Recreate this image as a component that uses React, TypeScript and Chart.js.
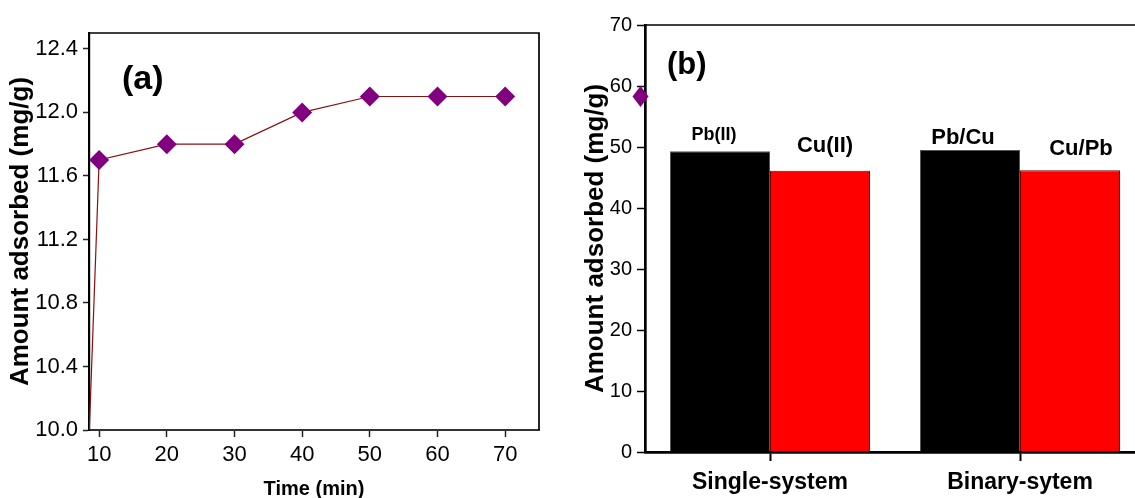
import React, { useEffect, useRef } from 'react';
import { Chart, registerables } from 'chart.js';

Chart.register(...registerables);

const FONT = '"Liberation Sans", Arial, Helvetica, sans-serif';
Chart.defaults.font.family = FONT;
Chart.defaults.color = '#000';

// ---- Panel (a): kinetics ----
const timeMin = [0, 10, 20, 30, 40, 50, 60, 70];
const amountA = [0, 11.7, 11.8, 11.8, 12.0, 12.1, 12.1, 12.1];
const xTicksA = [10, 20, 30, 40, 50, 60, 70];
const yTicksA = [10.0, 10.4, 10.8, 11.2, 11.6, 12.0, 12.4];
// a marker drawn past the right edge of panel (a) in the picture
const outOfRangeTime = [90];
const outOfRangeAmount = [12.1];

// ---- Panel (b): single vs binary ----
const systems = ['Single-system', 'Binary-sytem'];
const firstMetal = [49.3, 49.5];
const secondMetal = [46.1, 46.2];
const firstLabels = ['Pb(II)', 'Pb/Cu'];
const secondLabels = ['Cu(II)', 'Cu/Pb'];
const yTicksB = [0, 10, 20, 30, 40, 50, 60, 70];

// label styling (positions relative to bar tops)
const firstLabelStyle = [
  { size: 18, dx: -6, gap: 11 },
  { size: 22, dx: -7, gap: 6.5 },
];
const secondLabelStyle = [
  { size: 22, dx: 5, gap: 18.5 },
  { size: 22, dx: 11, gap: 15 },
];

function framePlugin(width: number, right: boolean) {
  return {
    id: 'frame',
    afterDatasetsDraw(chart: any) {
      const { ctx, chartArea: a } = chart;
      ctx.save();
      ctx.strokeStyle = '#000';
      ctx.lineWidth = width;
      ctx.beginPath();
      ctx.moveTo(a.left, a.top);
      ctx.lineTo(a.right, a.top);
      if (right) ctx.lineTo(a.right, a.bottom);
      ctx.stroke();
      ctx.restore();
    },
  };
}

function panelLetter(text: string, size: number, dx: number, dy: number) {
  return {
    id: 'panelLetter',
    afterDraw(chart: any) {
      const { ctx, chartArea: a } = chart;
      ctx.save();
      ctx.font = `bold ${size}px ${FONT}`;
      ctx.fillStyle = '#000';
      ctx.textAlign = 'left';
      ctx.textBaseline = 'middle';
      ctx.fillText(text, a.left + dx, a.top + dy);
      ctx.restore();
    },
  };
}

// draws the overflowing marker(s) of panel (a) through its own scales
const overflowMarkerPlugin = {
  id: 'overflowMarkers',
  afterDraw(chart: any) {
    const { ctx } = chart;
    const xs = chart.scales.x;
    const ys = chart.scales.y;
    outOfRangeTime.forEach((t, i) => {
      const px = xs.getPixelForValue(t);
      const py = ys.getPixelForValue(outOfRangeAmount[i]);
      ctx.save();
      ctx.fillStyle = '#800080';
      ctx.beginPath();
      ctx.moveTo(px, py - 10.5);
      ctx.lineTo(px + 8, py);
      ctx.lineTo(px, py + 10.5);
      ctx.lineTo(px - 8, py);
      ctx.closePath();
      ctx.fill();
      ctx.restore();
    });
  },
};

const barLabelPlugin = {
  id: 'barLabels',
  afterDatasetsDraw(chart: any) {
    const { ctx } = chart;
    const sets = [
      { labels: firstLabels, styles: firstLabelStyle },
      { labels: secondLabels, styles: secondLabelStyle },
    ];
    sets.forEach((set, di) => {
      const meta = chart.getDatasetMeta(di);
      meta.data.forEach((el: any, j: number) => {
        const st = set.styles[j];
        ctx.save();
        ctx.font = `bold ${st.size}px ${FONT}`;
        ctx.fillStyle = '#000';
        ctx.textAlign = 'center';
        ctx.textBaseline = 'alphabetic';
        ctx.fillText(set.labels[j], el.x + st.dx, el.y - st.gap);
        ctx.restore();
      });
    });
  },
};

export default function App() {
  const refA = useRef<HTMLCanvasElement>(null);
  const refB = useRef<HTMLCanvasElement>(null);

  useEffect(() => {
    const chartB = new Chart(refB.current as HTMLCanvasElement, {
      type: 'bar',
      data: {
        labels: systems,
        datasets: [
          {
            data: firstMetal,
            backgroundColor: '#000000',
            borderColor: '#555555',
            borderWidth: 1,
          },
          {
            data: secondMetal,
            backgroundColor: '#ff0000',
            borderColor: '#7a0000',
            borderWidth: 1,
          },
        ],
      },
      options: {
        animation: false,
        responsive: true,
        maintainAspectRatio: false,
        datasets: { bar: { categoryPercentage: 0.8, barPercentage: 1.0 } },
        layout: { padding: { top: 25, right: 15, left: 0, bottom: 0 } },
        plugins: { legend: { display: false }, tooltip: { enabled: false } },
        scales: {
          x: {
            type: 'category',
            offset: true,
            afterFit: (s: any) => {
              s.height = 58;
            },
            grid: {
              display: true,
              offset: false,
              drawOnChartArea: false,
              drawTicks: true,
              tickLength: 9,
              tickColor: '#000',
              tickWidth: 2,
            },
            border: { display: true, color: '#000', width: 2.7 },
            ticks: {
              font: { size: 23, weight: 'bold' },
              color: '#000',
              padding: 8,
            },
          },
          y: {
            type: 'linear',
            min: 0,
            max: 70,
            afterBuildTicks: (s: any) => {
              s.ticks = yTicksB.map((v) => ({ value: v }));
            },
            afterFit: (s: any) => {
              s.width = 85;
            },
            grid: {
              display: true,
              drawOnChartArea: false,
              drawTicks: true,
              tickLength: 8,
              tickColor: '#000',
              tickWidth: 1.5,
            },
            border: { display: true, color: '#000', width: 2.7 },
            ticks: { font: { size: 20 }, color: '#000', padding: 5 },
            title: {
              display: true,
              text: 'Amount adsorbed (mg/g)',
              font: { size: 26, weight: 'bold' },
              color: '#000',
              padding: { top: 20.2, bottom: 0 },
            },
          },
        },
      },
      plugins: [framePlugin(1.7, false), barLabelPlugin, panelLetter('(b)', 31, 22, 40)],
    } as any);

    const chartA = new Chart(refA.current as HTMLCanvasElement, {
      type: 'scatter',
      data: {
        datasets: [
          {
            data: timeMin.map((t, i) => ({ x: t, y: amountA[i] })),
            showLine: true,
            borderColor: '#8b1010',
            borderWidth: 1.2,
            pointStyle: 'rectRot',
            pointRadius: 10,
            pointBackgroundColor: '#800080',
            pointBorderColor: '#800080',
            pointBorderWidth: 0,
          },
        ],
      },
      options: {
        animation: false,
        responsive: true,
        maintainAspectRatio: false,
        layout: { padding: { top: 33, right: 161, left: 0, bottom: 0 } },
        plugins: { legend: { display: false }, tooltip: { enabled: false } },
        scales: {
          x: {
            type: 'linear',
            min: 8.5,
            max: 75,
            afterBuildTicks: (s: any) => {
              s.ticks = xTicksA.map((v) => ({ value: v }));
            },
            afterFit: (s: any) => {
              s.height = 80;
            },
            grid: {
              display: true,
              drawOnChartArea: false,
              drawTicks: true,
              tickLength: 7,
              tickColor: '#222',
              tickWidth: 1.5,
            },
            border: { display: true, color: '#333', width: 2 },
            ticks: { font: { size: 22 }, color: '#000', padding: 5 },
            title: {
              display: true,
              text: 'Time (min)',
              font: { size: 20, weight: 'bold' },
              color: '#000',
              padding: { top: 0, bottom: 9 },
            },
          },
          y: {
            type: 'linear',
            min: 10,
            max: 12.5,
            afterBuildTicks: (s: any) => {
              s.ticks = yTicksA.map((v) => ({ value: v }));
            },
            afterFit: (s: any) => {
              s.width = 89;
            },
            grid: {
              display: true,
              drawOnChartArea: false,
              drawTicks: true,
              tickLength: 6,
              tickColor: '#222',
              tickWidth: 1.5,
            },
            border: { display: true, color: '#000', width: 2.2 },
            ticks: {
              font: { size: 22 },
              color: '#000',
              padding: 5,
              callback: (v: any) => Number(v).toFixed(1),
            },
            title: {
              display: true,
              text: 'Amount adsorbed (mg/g)',
              font: { size: 26, weight: 'bold' },
              color: '#000',
              padding: { top: 5.2, bottom: 0 },
            },
          },
        },
      },
      plugins: [framePlugin(1.7, true), panelLetter('(a)', 34, 33, 47), overflowMarkerPlugin],
    } as any);

    return () => {
      chartA.destroy();
      chartB.destroy();
    };
  }, []);

  return (
    <div
      style={{
        position: 'fixed',
        left: 0,
        top: 0,
        width: 1135,
        height: 498,
        overflow: 'hidden',
        background: '#fff',
      }}
    >
      <div style={{ position: 'absolute', left: 560, top: 0, width: 600, height: 510 }}>
        <canvas ref={refB} />
      </div>
      <div style={{ position: 'absolute', left: 0, top: 0, width: 700, height: 510 }}>
        <canvas ref={refA} />
      </div>
    </div>
  );
}
